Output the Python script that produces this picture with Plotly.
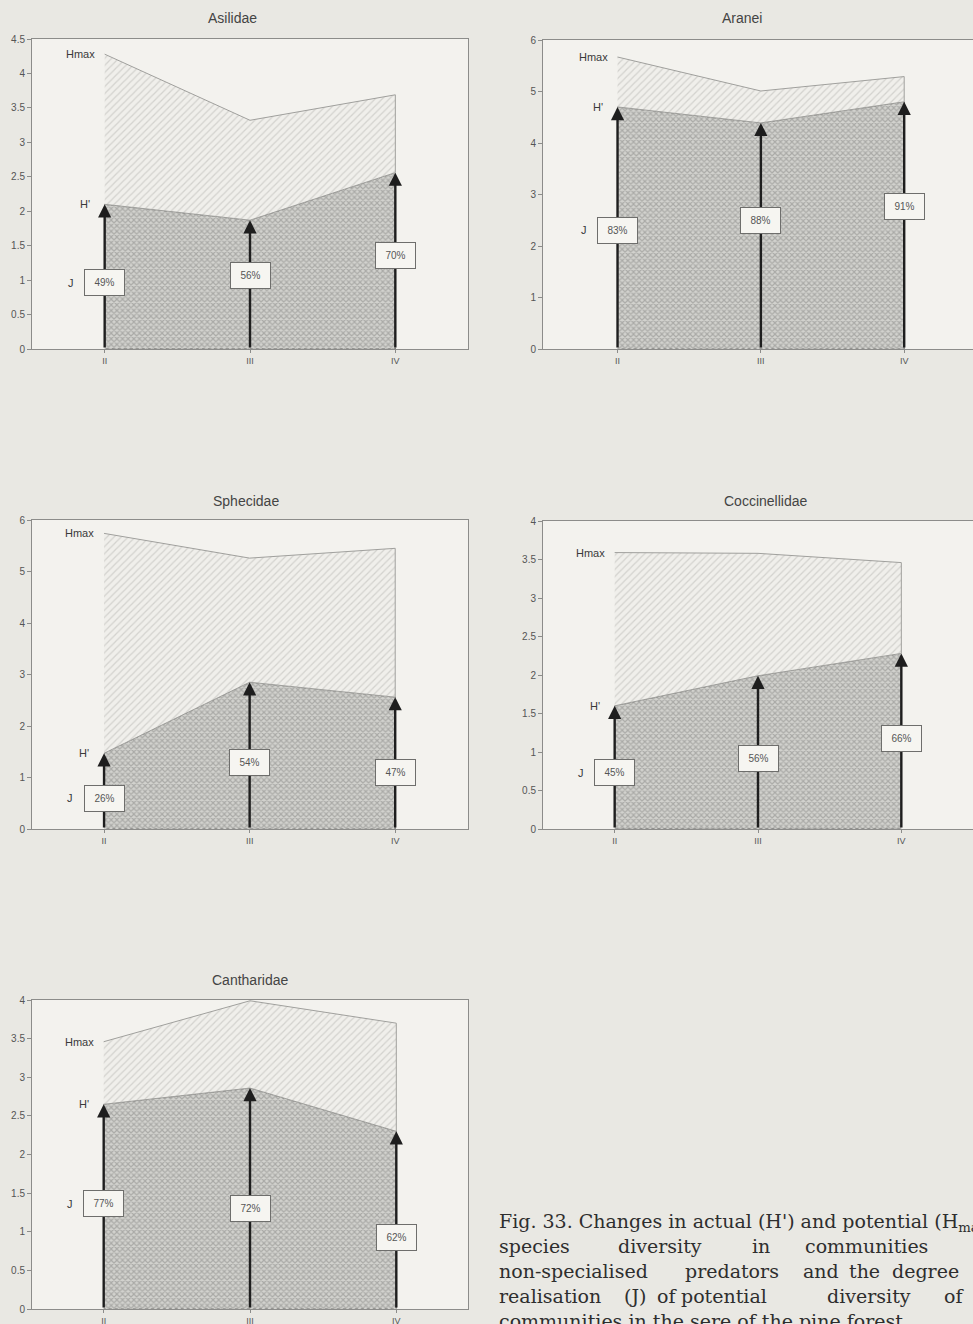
import plotly.graph_objects as go

# ---------------- data ----------------
stages = ["II", "III", "IV"]
taxa = ["Asilidae", "Aranei", "Sphecidae", "Coccinellidae", "Cantharidae"]

hmax_asilidae = [4.28, 3.32, 3.69]
hprime_asilidae = [2.10, 1.87, 2.56]
j_asilidae = [49, 56, 70]

hmax_aranei = [5.67, 5.01, 5.29]
hprime_aranei = [4.70, 4.39, 4.80]
j_aranei = [83, 88, 91]

hmax_sphecidae = [5.74, 5.26, 5.45]
hprime_sphecidae = [1.47, 2.85, 2.56]
j_sphecidae = [26, 54, 47]

hmax_coccinellidae = [3.59, 3.58, 3.46]
hprime_coccinellidae = [1.60, 1.99, 2.28]
j_coccinellidae = [45, 56, 66]

hmax_cantharidae = [3.46, 3.99, 3.70]
hprime_cantharidae = [2.65, 2.86, 2.30]
j_cantharidae = [77, 72, 62]

HMAX = [hmax_asilidae, hmax_aranei, hmax_sphecidae, hmax_coccinellidae, hmax_cantharidae]
HPRIME = [hprime_asilidae, hprime_aranei, hprime_sphecidae, hprime_coccinellidae, hprime_cantharidae]
JVAL = [j_asilidae, j_aranei, j_sphecidae, j_coccinellidae, j_cantharidae]

# caption, one list of words per printed line (the printed text is justified;
# the page is cut at the right edge)
caption_words = [
    ["Fig. 33. Changes in actual (H') and potential (H<sub>max</sub>)"],
    ["species", "diversity", "in", "communities"],
    ["non-specialised", "predators", "and", "the", "degree"],
    ["realisation", "(J)", "of", "potential", "diversity", "of"],
    ["communities in the sere of the pine forest"],
]

# ---------------- layout (page pixels) ----------------
W, H = 973, 1324
CAPTION_X = [
    [497],
    [497, 616, 750, 803],
    [497, 683, 801, 847, 890],
    [497, 622, 655, 679, 825, 942],
    [497],
]
CAPTION_Y = [1222, 1246, 1271, 1296, 1321]

PANEL_LAYOUT = [
    dict(px=(32, 468), py=(39, 349), xr=[-0.5, 2.5], ymax=4.5, dtick=0.5, title=(232, 18),
         jy=[0.96, 1.07, 1.35]),
    dict(px=(543, 976), py=(40, 349), xr=[-0.52, 2.48], ymax=6, dtick=1, title=(742, 18),
         jy=[2.31, 2.50, 2.76]),
    dict(px=(32, 468), py=(520, 829), xr=[-0.495, 2.5], ymax=6, dtick=1, title=(246, 501),
         jy=[0.60, 1.30, 1.10]),
    dict(px=(543, 976), py=(521, 829), xr=[-0.5, 2.5], ymax=4, dtick=0.5, title=(765, 501),
         jy=[0.73, 0.91, 1.17]),
    dict(px=(32, 468), py=(1000, 1309), xr=[-0.49, 2.49], ymax=4, dtick=0.5, title=(250, 980),
         jy=[1.36, 1.30, 0.93]),
]


def fx(p):
    return p / W


def fy(p):
    return 1 - p / H


PAGE = "#e9e8e3"
PLOT = "#f3f2ee"
AXC = "#8c8c8a"
TXT = "#3a3a3a"
SANS = "Liberation Sans, Arial, sans-serif"

fig = go.Figure()
annotations = []
shapes = []
layout_axes = {}

for i, (name, hm, hp, jv, L) in enumerate(zip(taxa, HMAX, HPRIME, JVAL, PANEL_LAYOUT)):
    n = "" if i == 0 else str(i + 1)
    xa, ya = "x" + n, "y" + n
    xs = list(range(len(stages)))

    # light plot-area background
    shapes.append(dict(type="rect", xref=xa + " domain", yref=ya + " domain",
                       x0=0, x1=1, y0=0, y1=1, fillcolor=PLOT, line=dict(width=0),
                       layer="below"))

    # H' region (dotted) polygon
    fig.add_trace(go.Scatter(
        x=xs + xs[::-1], y=hp + [0] * len(xs), xaxis=xa, yaxis=ya,
        mode="lines", fill="toself", fillcolor="#b8b8b4",
        fillpattern=dict(shape="x", size=4, solidity=0.5, fgcolor="#828280", bgcolor="#d2d2ce"),
        line=dict(color="#6f6f6d", width=1, dash="dot"), hoverinfo="skip", showlegend=False))
    # Hmax region (hatched) polygon
    fig.add_trace(go.Scatter(
        x=xs + xs[::-1], y=hm + hp[::-1], xaxis=xa, yaxis=ya,
        mode="lines", fill="toself",
        fillpattern=dict(shape="/", size=5, solidity=0.25, fgcolor="#b5b5b1", bgcolor="#f0efeb"),
        line=dict(color="#a0a09d", width=1), hoverinfo="skip", showlegend=False))

    x0, x1 = L["px"]
    y0, y1 = L["py"]
    layout_axes["xaxis" + n] = dict(
        domain=[fx(x0), min(1.0, fx(x1))], range=L["xr"], anchor=ya,
        tickvals=xs, ticktext=stages, ticks="outside", ticklen=3, tickcolor=AXC,
        tickfont=dict(family=SANS, size=9, color="#555"),
        showline=True, linecolor=AXC, linewidth=1, mirror=True, automargin=False,
        showgrid=False, zeroline=False, fixedrange=True)
    layout_axes["yaxis" + n] = dict(
        domain=[fy(y1), fy(y0)], range=[0, L["ymax"]], anchor=xa,
        dtick=L["dtick"], tick0=0, ticks="outside", ticklen=4, tickcolor=AXC,
        tickfont=dict(family=SANS, size=10, color="#555"),
        showline=True, linecolor=AXC, linewidth=1, mirror=True, automargin=False,
        showgrid=False, zeroline=False, fixedrange=True)

    # title (page-pixel reference axes)
    tx, ty = L["title"]
    annotations.append(dict(xref="x6", yref="y6", x=tx, y=ty,
                            text=name, showarrow=False, xanchor="center", yanchor="middle",
                            font=dict(family=SANS, size=14, color="#444")))

    # arrows 0 -> H'
    for k in xs:
        annotations.append(dict(xref=xa, yref=ya, axref=xa, ayref=ya,
                                x=k, y=hp[k], ax=k, ay=0, text="", showarrow=True,
                                arrowhead=2, arrowsize=1.1, arrowwidth=2.4, arrowcolor="#1e1e1e",
                                standoff=0, startstandoff=0))
    # J boxes
    for k in xs:
        annotations.append(dict(xref=xa, yref=ya, x=k, y=L["jy"][k], text=f"{jv[k]}%",
                                showarrow=False, xanchor="center", yanchor="middle",
                                bgcolor="#f6f5f1", bordercolor="#6e6e6c", borderwidth=1,
                                borderpad=3, width=33, height=19,
                                font=dict(family=SANS, size=10, color="#555")))
    # side labels
    annotations.append(dict(xref=xa, yref=ya, x=0, y=hm[0], text="Hmax", showarrow=False,
                            xanchor="right", yanchor="middle", xshift=-8,
                            font=dict(family=SANS, size=11, color=TXT)))
    annotations.append(dict(xref=xa, yref=ya, x=0, y=hp[0], text="H'", showarrow=False,
                            xanchor="right", yanchor="middle", xshift=-13,
                            font=dict(family=SANS, size=11, color=TXT)))
    annotations.append(dict(xref=xa, yref=ya, x=0, y=L["jy"][0], text="J", showarrow=False,
                            xanchor="right", yanchor="middle", xshift=-29,
                            font=dict(family=SANS, size=11, color=TXT)))

# hidden full-page axes in page pixels, used to place title/caption text
layout_axes["xaxis6"] = dict(domain=[0, 1], range=[0, W], anchor="y6", visible=False,
                             fixedrange=True, automargin=False)
layout_axes["yaxis6"] = dict(domain=[0, 1], range=[H, 0], anchor="x6", visible=False,
                             fixedrange=True, automargin=False)

# caption (justified by placing each word)
for li, (words, xpos) in enumerate(zip(caption_words, CAPTION_X)):
    for w, px in zip(words, xpos):
        annotations.append(dict(xref="x6", yref="y6", x=px, y=CAPTION_Y[li],
                                text=w, showarrow=False, xanchor="left", yanchor="middle",
                                font=dict(family="DejaVu Serif, serif", size=19, color="#2e2e2e")))

fig.update_layout(
    width=W, height=H, margin=dict(l=0, r=0, t=0, b=0, autoexpand=False),
    paper_bgcolor=PAGE, plot_bgcolor="rgba(0,0,0,0)", showlegend=False,
    annotations=annotations, shapes=shapes, **layout_axes)

fig.write_html(
    "out.html",
    config={"displayModeBar": False},
    post_script="document.body.style.margin='0';document.body.style.background='%s';" % PAGE,
)
